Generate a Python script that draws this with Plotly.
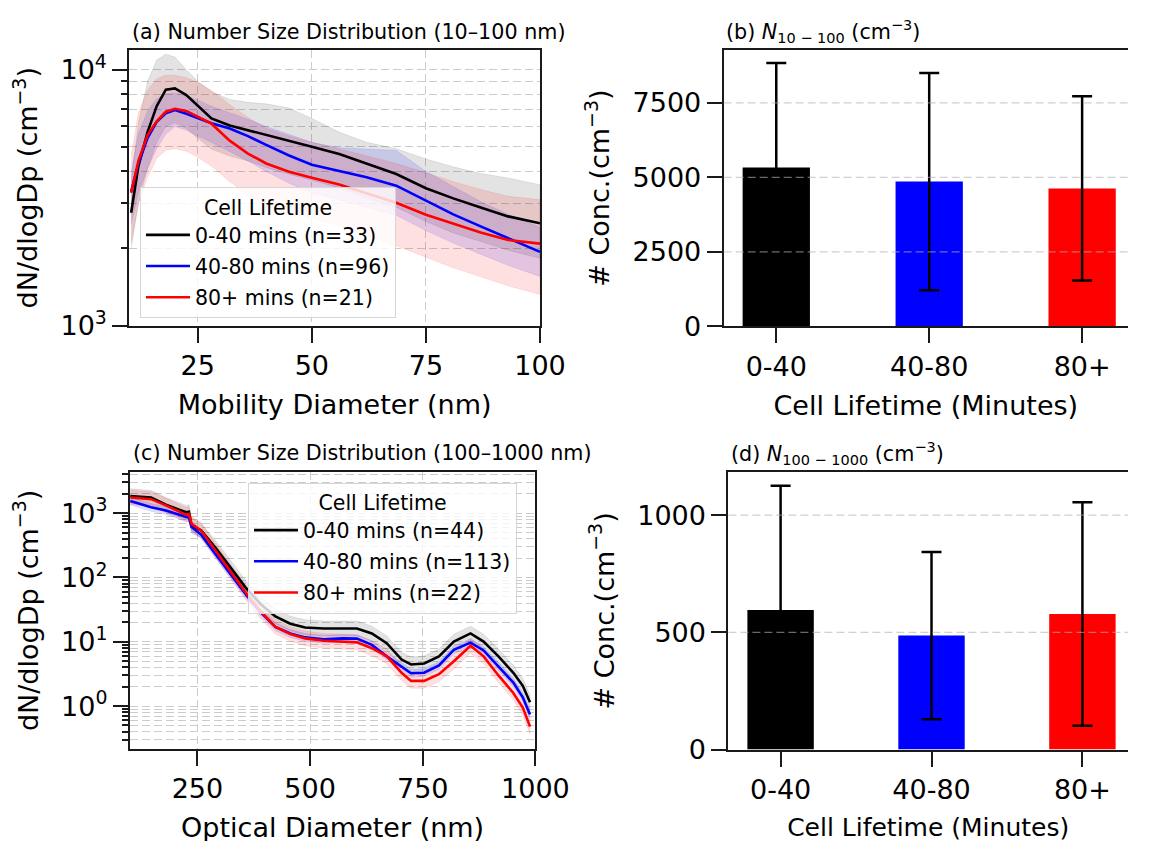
import plotly.graph_objects as go

# ---------------- Panel (a): 10-100 nm size distribution ----------------
Da = [10.4, 12, 14, 16, 18, 20, 22.5, 25, 28, 32, 36, 40, 45, 50, 56, 62, 68.5, 75, 81, 87, 93, 100]
a_black = [2760, 4200, 5700, 7200, 8350, 8450, 7950, 7200, 6450, 6050, 5800, 5580, 5270, 5000, 4680, 4280, 3910, 3440, 3140, 2890, 2670, 2510]
a_black_hi = [3700, 6200, 9000, 10900, 11500, 11200, 10000, 9000, 8200, 7650, 7450, 7350, 7080, 6450, 5700, 5200, 4910, 4480, 4170, 3930, 3770, 3550]
a_black_lo = [2000, 3000, 4100, 5200, 6000, 6200, 5900, 5400, 4900, 4600, 4400, 4150, 3900, 3700, 3450, 3150, 2900, 2550, 2300, 2130, 1970, 1830]
a_blue = [3340, 4300, 5400, 6250, 6750, 6950, 6720, 6450, 6170, 5890, 5500, 5080, 4620, 4250, 4030, 3800, 3520, 3080, 2720, 2440, 2190, 1940]
a_blue_hi = [4000, 5600, 6900, 7700, 8050, 8100, 7900, 7600, 7200, 6800, 6400, 6000, 5600, 5200, 4950, 4880, 4830, 4000, 3500, 3050, 2720, 2420]
a_blue_lo = [2500, 3300, 4100, 4900, 5600, 5990, 5800, 5500, 5200, 4800, 4400, 4000, 3600, 3300, 3100, 2900, 2700, 2350, 2100, 1900, 1720, 1556]
a_red = [3300, 4400, 5550, 6280, 6850, 7030, 6900, 6550, 6150, 5280, 4700, 4300, 3990, 3780, 3560, 3290, 3020, 2710, 2500, 2310, 2160, 2090]
a_red_hi = [4600, 6800, 8300, 9200, 9500, 9500, 9300, 8900, 8300, 7300, 6500, 5900, 5500, 5200, 4900, 4600, 4300, 3950, 3650, 3400, 3200, 3105]
a_red_lo = [2100, 3000, 3800, 4500, 4850, 4910, 4800, 4550, 4200, 3650, 3250, 2950, 2750, 2620, 2450, 2250, 2050, 1850, 1680, 1550, 1430, 1323]
a_names = ["0-40 mins (n=33)", "40-80 mins (n=96)", "80+ mins (n=21)"]

# ---------------- Panel (c): 100-1000 nm size distribution ----------------
Dc = [101, 147, 180, 225, 231, 237, 258, 291, 324, 357, 390, 423, 456, 489, 530, 572, 604, 637, 670, 703, 724, 753, 786, 819, 856, 885, 918, 951, 972, 988]
c_black = [1850, 1750, 1350, 1030, 1050, 640, 540, 284, 141, 69.6, 38.7, 24.8, 19.1, 16.7, 16.1, 16.1, 16.1, 13.5, 9.5, 5.3, 4.44, 4.6, 5.94, 10.1, 13.5, 10.1, 5.94, 3.3, 2.07, 1.15]
c_black_hi = [2400, 2250, 1750, 1320, 1350, 830, 700, 370, 183, 90, 50, 32, 25, 22, 21, 21, 21, 17.5, 12.4, 6.9, 5.8, 6.0, 7.7, 13.1, 17.5, 13.1, 7.7, 4.3, 2.7, 1.5]
c_black_lo = [1420, 1350, 1040, 790, 810, 490, 415, 218, 108, 53.5, 29.8, 19.1, 14.7, 12.8, 12.4, 12.4, 12.4, 10.4, 7.3, 4.1, 3.4, 3.5, 4.6, 7.8, 10.4, 7.8, 4.6, 2.5, 1.6, 0.88]
c_blue = [1550, 1230, 1100, 865, 850, 609, 465, 225, 111, 55, 28.9, 17.1, 13.5, 11.7, 10.9, 11.3, 11.2, 8.96, 5.94, 4.18, 3.24, 3.3, 4.29, 7.52, 9.72, 7.34, 4.18, 2.32, 1.37, 0.74]
c_blue_hi = [1780, 1410, 1265, 995, 980, 700, 535, 259, 128, 63, 33, 19.7, 15.5, 13.5, 12.5, 13.0, 12.9, 10.3, 6.8, 4.8, 3.7, 3.8, 4.9, 8.6, 11.2, 8.4, 4.8, 2.7, 1.58, 0.85]
c_blue_lo = [1350, 1070, 957, 752, 740, 530, 404, 196, 96.5, 47.8, 25.1, 14.9, 11.7, 10.2, 9.5, 9.8, 9.7, 7.8, 5.2, 3.6, 2.8, 2.9, 3.7, 6.5, 8.5, 6.4, 3.6, 2.0, 1.19, 0.64]
c_red = [1750, 1650, 1320, 940, 973, 680, 540, 258, 125, 58.4, 29.9, 17.1, 13.2, 11.3, 10.4, 10.1, 9.8, 7.96, 6.0, 3.3, 2.47, 2.47, 3.13, 4.99, 8.66, 5.94, 3.0, 1.6, 0.95, 0.48]
c_red_hi = [2280, 2150, 1720, 1220, 1265, 885, 700, 335, 163, 76, 39, 22.2, 17.2, 14.7, 13.5, 13.1, 12.7, 10.3, 7.8, 4.3, 3.2, 3.2, 4.1, 6.5, 11.3, 7.7, 3.9, 2.1, 1.25, 0.62]
c_red_lo = [1350, 1270, 1015, 723, 750, 523, 415, 198, 96, 45, 23, 13.2, 10.2, 8.7, 8.0, 7.8, 7.5, 6.1, 4.6, 2.5, 1.9, 1.9, 2.4, 3.8, 6.7, 4.6, 2.3, 1.25, 0.73, 0.37]
c_names = ["0-40 mins (n=44)", "40-80 mins (n=113)", "80+ mins (n=22)"]

# ---------------- Panels (b) and (d): bar charts ----------------
cats = ["0-40", "40-80", "80+"]
b_mean = [5335, 4860, 4630]
b_sd = [3510, 3650, 3095]
d_mean = [595, 486, 578]
d_sd = [531, 357, 477]

colors = ["#000000", "#0000ff", "#ff0000"]
band_colors = ["rgba(0,0,0,0.11)", "rgba(0,0,255,0.12)", "rgba(255,0,0,0.12)"]

FONT = "DejaVu Sans"
fig = go.Figure()


def add_dist(x, means, his, los, names, xa, ya, leg, tag):
    for m, hi, lo, c, bc in zip(means, his, los, colors, band_colors):
        fig.add_trace(go.Scatter(x=x + x[::-1], y=hi + lo[::-1], fill="toself", fillcolor=bc,
                                 line=dict(width=0.8, color=bc), mode="lines", hoverinfo="skip",
                                 showlegend=False, xaxis=xa, yaxis=ya))
    for i, (m, c, n) in enumerate(zip(means, colors, names)):
        fig.add_trace(go.Scatter(x=x, y=m, mode="lines", line=dict(color=c, width=2.6), name=n,
                                 xaxis=xa, yaxis=ya, legend=leg, legendgroup=f"{tag}{i}"))


add_dist(Da, [a_black, a_blue, a_red], [a_black_hi, a_blue_hi, a_red_hi], [a_black_lo, a_blue_lo, a_red_lo],
         a_names, "x", "y", "legend", "a")
add_dist(Dc, [c_black, c_blue, c_red], [c_black_hi, c_blue_hi, c_red_hi], [c_black_lo, c_blue_lo, c_red_lo],
         c_names, "x3", "y3", "legend2", "c")

for mean, sd, xa, ya in [(b_mean, b_sd, "x2", "y2"), (d_mean, d_sd, "x4", "y4")]:
    fig.add_trace(go.Bar(x=cats, y=mean, marker=dict(color=colors, line=dict(width=0)), width=0.44,
                         error_y=dict(type="data", array=sd, color="black", thickness=2.5, width=10),
                         showlegend=False, xaxis=xa, yaxis=ya))

GRID = "#cccccc"
DASH = "8px,4px"
LINE = "#1a1a1a"


def base_axis(**kw):
    d = dict(showline=True, linecolor=LINE, linewidth=2, ticks="outside", ticklen=15, tickwidth=2,
             tickcolor=LINE, tickfont=dict(size=27, color="black", family=FONT), zeroline=False,
             title_font=dict(size=27, color="black", family=FONT))
    d.update(kw)
    return d


minor_a = [k * 10 ** e for e in [3] for k in range(2, 10)]
minor_c = [k * 10 ** e for e in [-1, 0, 1, 2, 3] for k in range(2, 10) if 0.21 < k * 10 ** e < 4300]

LEGFONT = 20.5
legend_common = dict(xanchor="left", yanchor="top", bgcolor="rgba(255,255,255,0.8)",
                     bordercolor="#d6d6d6", borderwidth=1, font=dict(size=LEGFONT, family=FONT, color="black"),
                     title=dict(text="Cell Lifetime", side="top center",
                                font=dict(size=LEGFONT, family=FONT, color="black")),
                     itemwidth=44, tracegroupgap=1.5)

fig.update_layout(
    width=1154, height=841, margin=dict(l=0, r=0, t=0, b=0),
    paper_bgcolor="white", plot_bgcolor="white",
    font=dict(family=FONT, color="black"),
    xaxis=base_axis(domain=[0.1083, 0.4750], anchor="y", range=[10, 100], tickvals=[25, 50, 75, 100],
                    mirror=True, showgrid=True, gridcolor=GRID, griddash=DASH, gridwidth=1,
                    title=dict(text="Mobility Diameter (nm)")),
    yaxis=base_axis(domain=[0.6156, 0.9492], anchor="x", type="log", range=[3, 4.077],
                    tickvals=[1000, 10000], ticktext=["10<sup>3</sup>", "10<sup>4</sup>"],
                    mirror=True, showgrid=True, gridcolor=GRID, griddash=DASH, gridwidth=1,
                    minor=dict(tickvals=minor_a, ticks="outside", ticklen=6, tickwidth=1.5, tickcolor=LINE,
                               showgrid=True, gridcolor=GRID, griddash=DASH, gridwidth=1),
                    title=dict(text="dN/dlogDp (cm<sup>−3</sup>)")),
    xaxis3=base_axis(domain=[0.1088, 0.4709], anchor="y3", range=[100, 1000], tickvals=[250, 500, 750, 1000],
                     mirror=True, showgrid=True, gridcolor=GRID, griddash=DASH, gridwidth=1,
                     title=dict(text="Optical Diameter (nm)")),
    yaxis3=base_axis(domain=[0.1034, 0.4379], anchor="x3", type="log", range=[-0.66, 3.635],
                     tickvals=[1, 10, 100, 1000],
                     ticktext=["10<sup>0</sup>", "10<sup>1</sup>", "10<sup>2</sup>", "10<sup>3</sup>"],
                     mirror=True, showgrid=True, gridcolor=GRID, griddash=DASH, gridwidth=1,
                     minor=dict(tickvals=minor_c, ticks="outside", ticklen=6, tickwidth=1.5, tickcolor=LINE,
                                showgrid=True, gridcolor=GRID, griddash=DASH, gridwidth=1),
                     title=dict(text="dN/dlogDp (cm<sup>−3</sup>)")),
    xaxis2=base_axis(domain=[0.639, 1.0], anchor="y2", type="category", range=[-0.344, 2.30],
                     mirror=True, showgrid=False, title=dict(text="Cell Lifetime (Minutes)")),
    yaxis2=base_axis(domain=[0.6147, 0.9492], anchor="x2", range=[0, 9280], tickvals=[0, 2500, 5000, 7500],
                     showgrid=False, title=dict(text="# Conc.(cm<sup>−3</sup>)")),
    xaxis4=base_axis(domain=[0.6432, 1.0], anchor="y4", type="category", range=[-0.346, 2.302],
                     mirror=True, showgrid=False,
                     title=dict(text="Cell Lifetime (Minutes)", font=dict(size=25, color="black", family=FONT))),
    yaxis4=base_axis(domain=[0.1023, 0.4379], anchor="x4", range=[0, 1183], tickvals=[0, 500, 1000],
                     showgrid=False, title=dict(text="# Conc.(cm<sup>−3</sup>)")),
    legend=dict(x=136 / 1154, y=1 - 182.7 / 841, **legend_common),
    legend2=dict(x=247.3 / 1154, y=1 - 483.3 / 841, **legend_common),
)

# dashed horizontal grid drawn above the bars (as in the reference)
shapes = []
for xa, ya, vals in [("x2", "y2", [2500, 5000, 7500]), ("x4", "y4", [500, 1000])]:
    for v in vals:
        shapes.append(dict(type="line", xref=xa + " domain", yref=ya, x0=0, x1=1, y0=v, y1=v, layer="above",
                           line=dict(color="rgba(176,176,176,0.6)", width=1.3, dash=DASH)))
fig.update_layout(shapes=shapes)

titles = [
    (126 / 1154, 1 - 24 / 841, "(a) Number Size Distribution (10–100 nm)"),
    (737.4 / 1154, 1 - 24 / 841, "(b) <i>N</i><sub>10 − 100</sub> (cm<sup>−3</sup>)"),
    (126.3 / 1154, 1 - 453.5 / 841, "(c) Number Size Distribution (100–1000 nm)"),
    (743 / 1154, 1 - 453.5 / 841, "(d) <i>N</i><sub>100 − 1000</sub> (cm<sup>−3</sup>)"),
]
for x, y, t in titles:
    fig.add_annotation(x=x, y=y, xref="paper", yref="paper", xanchor="left", yanchor="middle", text=t,
                       showarrow=False, font=dict(size=20.7, family=FONT, color="black"))

fig.write_html("out.html")
